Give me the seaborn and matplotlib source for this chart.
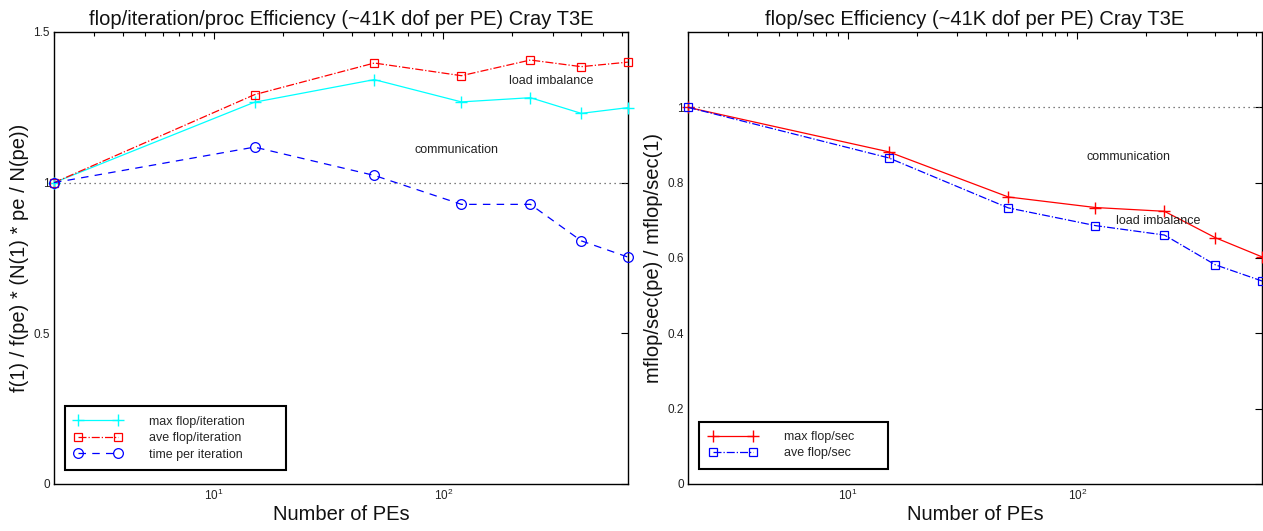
import numpy as np
import pandas as pd
import matplotlib
matplotlib.use("Agg")
import matplotlib.pyplot as plt
import seaborn as sns
from matplotlib.ticker import FuncFormatter, FixedLocator, LogLocator

# ---------------- data ----------------
pes = [2, 15, 50, 120, 240, 400, 640]

max_flop_iter = [1.0, 1.267, 1.342, 1.268, 1.282, 1.230, 1.249]
ave_flop_iter = [1.0, 1.292, 1.397, 1.355, 1.407, 1.385, 1.400]
time_per_iter = [1.0, 1.118, 1.024, 0.928, 0.928, 0.807, 0.753]

max_flop_sec = [1.0, 0.882, 0.762, 0.734, 0.724, 0.654, 0.603]
ave_flop_sec = [1.0, 0.866, 0.733, 0.686, 0.661, 0.582, 0.539]

left_labels = ["max flop/iteration", "ave flop/iteration", "time per iteration"]
right_labels = ["max flop/sec", "ave flop/sec"]
left_yticks = [0, 0.5, 1, 1.5]
right_yticks = [0, 0.2, 0.4, 0.6, 0.8, 1]

# ---------------- style ----------------
sns.set_theme(style="white")
plt.rcParams["font.family"] = ["Liberation Sans", "DejaVu Sans"]
plt.rcParams["mathtext.fontset"] = "custom"
plt.rcParams["mathtext.rm"] = "Liberation Sans"
plt.rcParams["axes.edgecolor"] = "black"
plt.rcParams["axes.linewidth"] = 1.0
plt.rcParams["xtick.direction"] = "in"
plt.rcParams["ytick.direction"] = "in"

fig = plt.figure(figsize=(12.63, 5.31), dpi=100)
axL = fig.add_axes([54 / 1263, 47 / 531, 574 / 1263, 452 / 531])
axR = fig.add_axes([688 / 1263, 47 / 531, 574 / 1263, 452 / 531])

fmt = FuncFormatter(lambda v, p: "%g" % v)
LBL = 14.5

def style_axes(ax, yticks, ylim):
    ax.set_xscale("log")
    ax.set_xlim(2, 640)
    ax.set_ylim(*ylim)
    ax.yaxis.set_major_locator(FixedLocator(yticks))
    ax.yaxis.set_major_formatter(fmt)
    ax.xaxis.set_major_locator(LogLocator(base=10))
    ax.xaxis.set_minor_locator(LogLocator(base=10, subs=np.arange(2, 10)))
    ax.tick_params(axis="both", which="both", direction="in", top=True, right=True,
                   colors="black", labelcolor="#222222")
    ax.tick_params(axis="both", which="major", length=5, width=0.8, labelsize=8.5, pad=3)
    ax.tick_params(axis="x", which="minor", length=3, width=0.8)
    ax.tick_params(axis="y", which="minor", left=False, right=False)
    ax.grid(False)
    ax.axhline(1.0, color="#555555", linestyle=(0, (1, 3)), linewidth=0.9, zorder=1)
    ax.set_xlabel("Number of PEs", fontsize=LBL, labelpad=1, color="#111111")
    for s in ax.spines.values():
        s.set_color("black")
        s.set_linewidth(1.0)

def mk(color):
    return dict(markeredgecolor=color, markerfacecolor="none", clip_on=False)

# ---------------- left panel ----------------
dfL = pd.DataFrame({"pes": pes, "max": max_flop_iter, "ave": ave_flop_iter, "time": time_per_iter})
sns.lineplot(data=dfL, x="pes", y="max", ax=axL, color="#00ffff", marker="+", markersize=9,
             markeredgewidth=1.0, linestyle="-", linewidth=0.9, label=left_labels[0], zorder=3,
             **mk("#00ffff"))
sns.lineplot(data=dfL, x="pes", y="ave", ax=axL, color="red", marker="s", markersize=6,
             markeredgewidth=0.9, linestyle="-.", linewidth=0.9, label=left_labels[1], zorder=3,
             **mk("red"))
sns.lineplot(data=dfL, x="pes", y="time", ax=axL, color="blue", marker="o", markersize=7,
             markeredgewidth=0.9, linestyle=(0, (6, 5)), linewidth=0.9, label=left_labels[2],
             zorder=3, **mk("blue"))
style_axes(axL, left_yticks, (0, 1.5))
axL.set_ylabel("f(1) / f(pe) * (N(1) * pe / N(pe))", fontsize=LBL, labelpad=3, color="#111111")
axL.set_title("flop/iteration/proc Efficiency (~41K dof per PE) Cray T3E", fontsize=LBL,
              pad=5, color="#111111")
axL.text(193, 1.337, "load imbalance", fontsize=9, va="center", ha="left", color="#222222")
axL.text(75, 1.108, "communication", fontsize=9, va="center", ha="left", color="#222222")

legL = axL.legend(loc="lower left", bbox_to_anchor=(0.019, 0.031, 0.386, 0.15), mode="expand",
                  borderaxespad=0, numpoints=2, handlelength=3.8, handletextpad=2.2,
                  fontsize=9, labelspacing=0.35, borderpad=0.75, fancybox=False,
                  framealpha=1, edgecolor="black")
legL.get_frame().set_linewidth(1.5)

# ---------------- right panel ----------------
dfR = pd.DataFrame({"pes": pes, "max": max_flop_sec, "ave": ave_flop_sec})
sns.lineplot(data=dfR, x="pes", y="max", ax=axR, color="red", marker="+", markersize=9,
             markeredgewidth=1.0, linestyle="-", linewidth=0.9, label=right_labels[0], zorder=3,
             **mk("red"))
sns.lineplot(data=dfR, x="pes", y="ave", ax=axR, color="blue", marker="s", markersize=6,
             markeredgewidth=0.9, linestyle="-.", linewidth=0.9, label=right_labels[1], zorder=3,
             **mk("blue"))
style_axes(axR, right_yticks, (0, 1.2))
axR.set_ylabel("mflop/sec(pe) / mflop/sec(1)", fontsize=LBL, labelpad=3, color="#111111")
axR.set_title("flop/sec Efficiency (~41K dof per PE) Cray T3E", fontsize=LBL, pad=5,
              color="#111111")
axR.text(110, 0.869, "communication", fontsize=9, va="center", ha="left", color="#222222")
axR.text(147, 0.697, "load imbalance", fontsize=9, va="center", ha="left", color="#222222")

legR = axR.legend(loc="lower left", bbox_to_anchor=(0.020, 0.034, 0.328, 0.10), mode="expand",
                  borderaxespad=0, numpoints=2, handlelength=3.8, handletextpad=2.2,
                  fontsize=9, labelspacing=0.35, borderpad=0.75, fancybox=False,
                  framealpha=1, edgecolor="black")
legR.get_frame().set_linewidth(1.5)

fig.savefig("out.png", dpi=100)
